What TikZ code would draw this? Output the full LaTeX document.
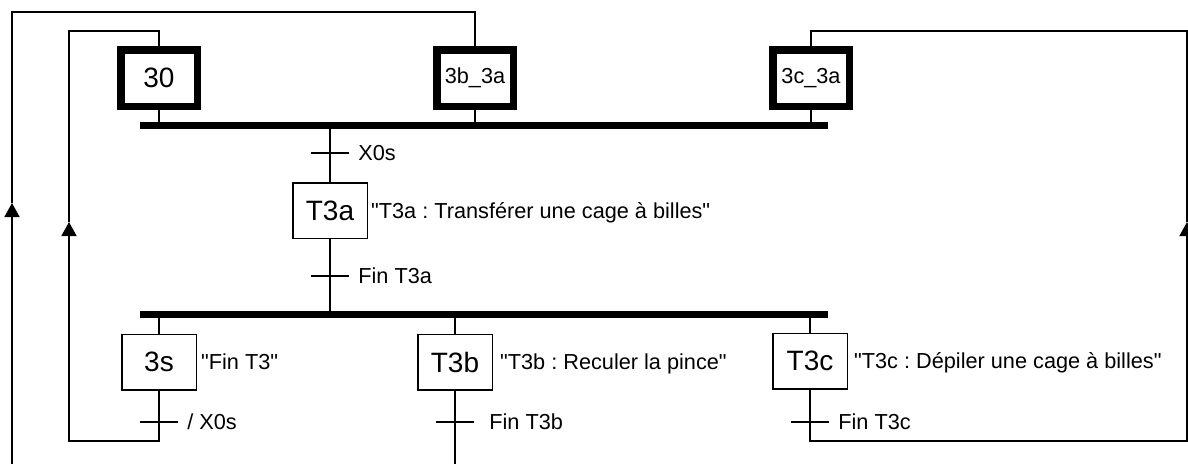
\documentclass[tikz,border=0pt]{standalone}
\usepackage{fontspec}
\setmainfont{Liberation Sans}[Ligatures=TeXOff]
\frenchspacing
\usetikzlibrary{arrows.meta,positioning}

\tikzset{
  link/.style={line width=1.5pt},
  bar/.style={line width=7pt},
  retour/.style={link,-{Triangle[length=14pt,width=15pt]}},
  etape/.style={draw,line width=1.5pt,minimum width=74.5pt,minimum height=55.5pt,
    inner sep=0pt,font=\fontsize{28}{32}\selectfont},
  etapeinit/.style={etape,line width=7.5pt,minimum width=76.5pt,minimum height=56.5pt},
  trans/.style={minimum width=38pt,minimum height=0pt,inner sep=0pt},
  lbl/.style={inner sep=0pt,anchor=west,text height=15.5pt,text depth=0pt,
    font=\fontsize{21.7}{26}\selectfont},
}

\begin{document}
\begin{tikzpicture}[x=1pt,y=-1pt]
  \useasboundingbox (0,0) rectangle (1188,463);

  % initial steps
  \node[etapeinit] (s30) at (159,78) {30};
  \node[etapeinit,font=\fontsize{21.7}{26}\selectfont] (s3b3a) at (475,78) {3b\_3a};
  \node[etapeinit,font=\fontsize{21.7}{26}\selectfont] (s3c3a) at (811,78) {3c\_3a};

  % convergence
  \coordinate (b1w) at (140,125.5);
  \coordinate (b1e) at (828,125.5);
  \draw[bar] (b1w) -- (b1e);
  \draw[link] (s30.south) -- (s30 |- b1w);
  \draw[link] (s3b3a.south) -- (s3b3a |- b1w);
  \draw[link] (s3c3a.south) -- (s3c3a |- b1w);

  % T3a
  \node[trans] (t0) at (330,153) {};
  \draw[link] (t0.west) -- (t0.east);
  \node[lbl,right=9pt of t0.east] {X0s};
  \node[etape] (T3a) at (330,210.5) {T3a};
  \node[lbl,right=3pt of T3a] {"T3a : Transférer une cage à billes"};
  \draw[link] (T3a |- b1w) -- (T3a.north);
  \node[trans] (t1) at (330,276) {};
  \draw[link] (t1.west) -- (t1.east);
  \node[lbl,right=9pt of t1.east] {Fin T3a};

  % divergence
  \coordinate (b2w) at (140,314);
  \coordinate (b2e) at (828,314);
  \draw[bar] (b2w) -- (b2e);
  \draw[link] (T3a.south) -- (T3a |- b2w);

  \node[etape] (s3s) at (159,362) {3s};
  \node[etape] (T3b) at (455,362) {T3b};
  \node[etape] (T3c) at (810,361) {T3c};
  \node[lbl,right=4pt of s3s] {"Fin T3"};
  \node[lbl,right=7pt of T3b] {"T3b : Reculer la pince"};
  \node[lbl,right=6pt of T3c] {"T3c : Dépiler une cage à billes"};
  \draw[link] (s3s |- b2w) -- (s3s.north);
  \draw[link] (T3b |- b2w) -- (T3b.north);
  \draw[link] (T3c |- b2w) -- (T3c.north);

  \node[trans] (t3s) at (159,422) {};
  \node[trans] (t3b) at (455,422) {};
  \node[trans] (t3c) at (810,422) {};
  \draw[link] (t3s.west) -- (t3s.east);
  \draw[link] (t3b.west) -- (t3b.east);
  \draw[link] (t3c.west) -- (t3c.east);
  \node[lbl,right=9pt of t3s.east] {/ X0s};
  \node[lbl,right=15pt of t3b.east] {Fin T3b};
  \node[lbl,right=9pt of t3c.east] {Fin T3c};

  % return 3s -> 30
  \coordinate (c1) at (69,441);
  \coordinate (c2) at (69,222);
  \coordinate (c3) at (69,31);
  \draw[retour] (s3s.south) |- (c1) -- (c2);
  \draw[link] (c2) -- (c3) -| (s30.north);

  % return T3b -> 3b_3a
  \coordinate (d0) at (455,470);
  \coordinate (d1) at (12,470);
  \coordinate (d2) at (12,203);
  \coordinate (d3) at (12,12);
  \draw[link] (T3b.south) -- (d0);
  \draw[retour] (d1) -- (d2);
  \draw[link] (d2) -- (d3) -| (s3b3a.north);

  % return T3c -> 3c_3a
  \coordinate (e1) at (1187,441);
  \coordinate (e2) at (1187,222);
  \coordinate (e3) at (1187,31);
  \draw[retour] (T3c.south) |- (e1) -- (e2);
  \draw[link] (e2) -- (e3) -| (s3c3a.north);
\end{tikzpicture}
\end{document}
